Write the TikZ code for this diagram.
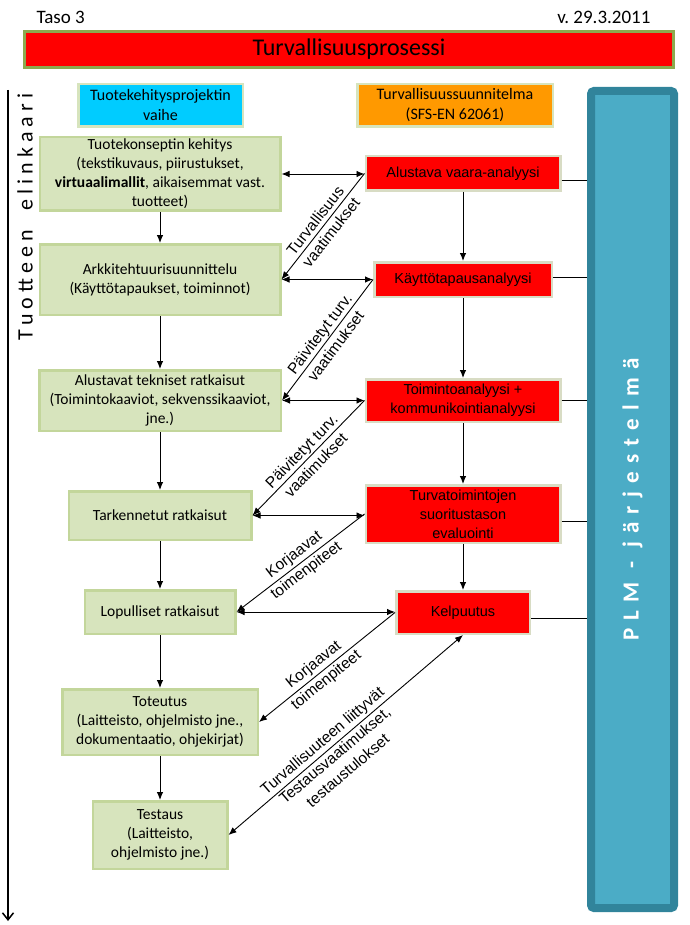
\documentclass[tikz,border=0pt]{standalone}
\usepackage{fontspec}
\setmainfont{Carlito}
\newfontfamily\feedbackfont{Liberation Sans}
\newfontfamily\analysisfont{Liberation Sans}
\newfontfamily\lifefont[LetterSpace=23]{Carlito}
\newfontfamily\plmfont[LetterSpace=36]{Carlito}
\usetikzlibrary{arrows.meta, calc, positioning}
\definecolor{phasefill}{HTML}{D7E4BD}
\definecolor{phasedraw}{HTML}{C3D69B}
\definecolor{analysisfill}{HTML}{FF0000}
\definecolor{analysisdraw}{HTML}{D8DCC4}
\definecolor{headerdraw}{HTML}{8CAA4E}
\definecolor{projectfill}{HTML}{00CCFF}
\definecolor{planfill}{HTML}{FF9900}
\definecolor{plmfill}{HTML}{4BACC6}
\definecolor{plmdraw}{HTML}{31849B}
\def\boxlinewidth{2.5pt}
\def\arrowlinewidth{0.9pt}
\def\plmlinewidth{8pt}
\def\tipsize{length=8pt,width=6.5pt}
\tikzset{
	% texts
	boxtext/.style={
		font=\fontsize{15.5}{19}\selectfont,
		align=center,
	},
	% general
	module/.style={
		draw,
		line width=\boxlinewidth,
		boxtext,
		shape=rectangle,
		inner sep=0pt,
	},
	% title banner
	header/.style={
		module,
		line width=3pt,
		draw=headerdraw,
		fill=analysisfill,
		font=\fontsize{24}{28}\selectfont,
	},
	% column titles
	column/.style={
		module,
		draw=phasefill,
		font=\fontsize{16}{20}\selectfont,
	},
	% product development phases
	phase/.style={
		module,
		draw=phasedraw,
		fill=phasefill,
	},
	% safety analyses
	analysis/.style={
		module,
		draw=analysisdraw,
		fill=analysisfill,
		font=\analysisfont\fontsize{14.5}{19}\selectfont,
	},
	% plm system
	plm/.style={
		draw=plmdraw,
		fill=plmfill,
		line width=\plmlinewidth,
		rounded corners=3pt,
		inner sep=0pt,
		text=white,
		font=\plmfont\bfseries\fontsize{23}{26}\selectfont,
	},
	% connections
	connection/.style={
		line width=\arrowlinewidth,
		-{Latex[\tipsize]},
	},
	twoway/.style={
		line width=\arrowlinewidth,
		{Latex[\tipsize]}-{Latex[\tipsize]},
	},
	link/.style={
		line width=\arrowlinewidth,
	},
	feedback/.style={
		sloped,
		align=center,
		inner sep=2pt,
		font=\feedbackfont\fontsize{15.5}{20}\selectfont,
	},
	lifeline/.style={
		line width=2pt,
		-{Straight Barb[length=7pt,width=11pt,line width=1.5pt]},
	},
}
\begin{document}
\begin{tikzpicture}[x=1pt, y=-1pt]
	\useasboundingbox (0,0) rectangle (689,925);
	%
	\node[anchor=west, font=\fontsize{19}{22}\selectfont] (level) at (33,17) {Taso 3};
	\node[anchor=east, font=\fontsize{19}{22}\selectfont] (version) at (654,17) {v.\ 29.3.2011};
	\node[header, minimum width=649pt, minimum height=36pt] (process) at (349,49.5) {Turvallisuusprosessi};
	%
	\node[column, fill=projectfill, minimum width=164.5pt, minimum height=42.5pt] (project) at (160.5,105.5) {Tuotekehitysprojektin\\vaihe};
	\node[column, fill=planfill, minimum width=195.5pt, minimum height=42.5pt] (plan) at (455,105.5) {Turvallisuussuunnitelma\\(SFS-EN 62061)};
	%
	\node[phase, minimum width=240.5pt, minimum height=73.5pt] (concept) at (160,174) {Tuotekonseptin kehitys\\(tekstikuvaus, piirustukset,\\\textbf{virtuaalimallit}, aikaisemmat vast.\\tuotteet)};
	\node[phase, minimum width=240.5pt, minimum height=70.5pt] (architecture) at (160,279.5) {Arkkitehtuurisuunnittelu\\(Käyttötapaukset, toiminnot)};
	\node[phase, minimum width=241.5pt, minimum height=60.5pt] (prelim) at (160,400.5) {Alustavat tekniset ratkaisut\\(Toimintokaaviot, sekvenssikaaviot,\\jne.)};
	\node[phase, minimum width=182.5pt, minimum height=48.5pt] (refined) at (160,515.5) {Tarkennetut ratkaisut};
	\node[phase, minimum width=150.5pt, minimum height=43.5pt] (final) at (160,612) {Lopulliset ratkaisut};
	\node[phase, minimum width=195.5pt, minimum height=65.5pt] (implementation) at (160,722) {Toteutus\\(Laitteisto, ohjelmisto jne.,\\dokumentaatio, ohjekirjat)};
	\node[phase, minimum width=134.5pt, minimum height=67.5pt] (testing) at (160,835) {Testaus\\(Laitteisto,\\ohjelmisto jne.)};
	%
	\node[analysis, minimum width=194.5pt, minimum height=34.5pt] (hazard) at (463,173.5) {Alustava vaara-analyysi};
	\node[analysis, minimum width=177.5pt, minimum height=34.5pt] (usecase) at (463,279.5) {Käyttötapausanalyysi};
	\node[analysis, minimum width=194.5pt, minimum height=42.5pt] (function) at (463,400.5) {Toimintoanalyysi +\\kommunikointianalyysi};
	\node[analysis, minimum width=194.5pt, minimum height=57.5pt] (evaluation) at (463,514) {Turvatoimintojen\\suoritustason\\evaluointi};
	\node[analysis, minimum width=133.5pt, minimum height=42.5pt] (qualify) at (463,612.5) {Kelpuutus};
	%
	\node[plm, rotate=90, minimum width=817pt, minimum height=83pt] (plm) at (632.5,499.5) {PLM - järjestelmä};
	%
	\coordinate (lifestart) at (8,90);
	\coordinate (lifeend) at (8,921);
	\draw[lifeline] (lifestart) -- (lifeend);
	\node[rotate=90, font=\lifefont\fontsize{22}{26}\selectfont] (lifecycle) at (25,217) {Tuotteen\ \ elinkaari};
	%
	\draw[connection] (concept) -- (architecture);
	\draw[connection] (architecture) -- (prelim);
	\draw[connection] (prelim) -- (refined);
	\draw[connection] (refined) -- (final);
	\draw[connection] (final) -- (implementation);
	\draw[connection] (implementation) -- (testing);
	%
	\draw[connection] (hazard) -- (usecase);
	\draw[connection] (usecase) -- (function);
	\draw[connection] (function) -- (evaluation);
	\draw[connection] (evaluation) -- (qualify);
	%
	\draw[twoway] (concept.east) -- (concept.east -| hazard.west);
	\draw[twoway] (architecture.east) -- (architecture.east -| usecase.west);
	\draw[twoway] (prelim.east) -- (prelim.east -| function.west);
	\draw[twoway] (refined.east) -- (refined.east -| evaluation.west);
	\draw[twoway] (final.east) -- (final.east -| qualify.west);
	%
	\draw[link] (hazard.east) ++(0,7) coordinate (hazardlink) -- (hazardlink -| plm.north);
	\draw[link] (usecase.east) ++(0,-2) coordinate (usecaselink) -- (usecaselink -| plm.north);
	\draw[link] (function.east) -- (function.east -| plm.north);
	\draw[link] (evaluation.east) ++(0,7) coordinate (evaluationlink) -- (evaluationlink -| plm.north);
	\draw[link] (qualify.east) ++(0,6) coordinate (qualifylink) -- (qualifylink -| plm.north);
	%
	\draw[connection] (hazard.west) -- node[feedback] {Turvallisuus\\vaatimukset} (architecture.east);
	\draw[connection] (usecase.west) -- node[feedback] {Päivitetyt turv.\\vaatimukset} (prelim.east);
	\draw[connection] (function.west) -- node[feedback] {Päivitetyt turv.\\vaatimukset} (refined.east);
	\draw[connection] (evaluation.west) -- node[feedback] {Korjaavat\\toimenpiteet} (final.east);
	\draw[connection] (qualify.west) -- node[feedback, pos=0.55] {Korjaavat\\toimenpiteet} (implementation.east);
	\draw[twoway] (qualify.south) -- node[feedback, pos=0.57, above] {Turvallisuuteen liittyvät} node[feedback, pos=0.57, below] {Testausvaatimukset,\\testaustulokset} (testing.east);
\end{tikzpicture}
\end{document}
